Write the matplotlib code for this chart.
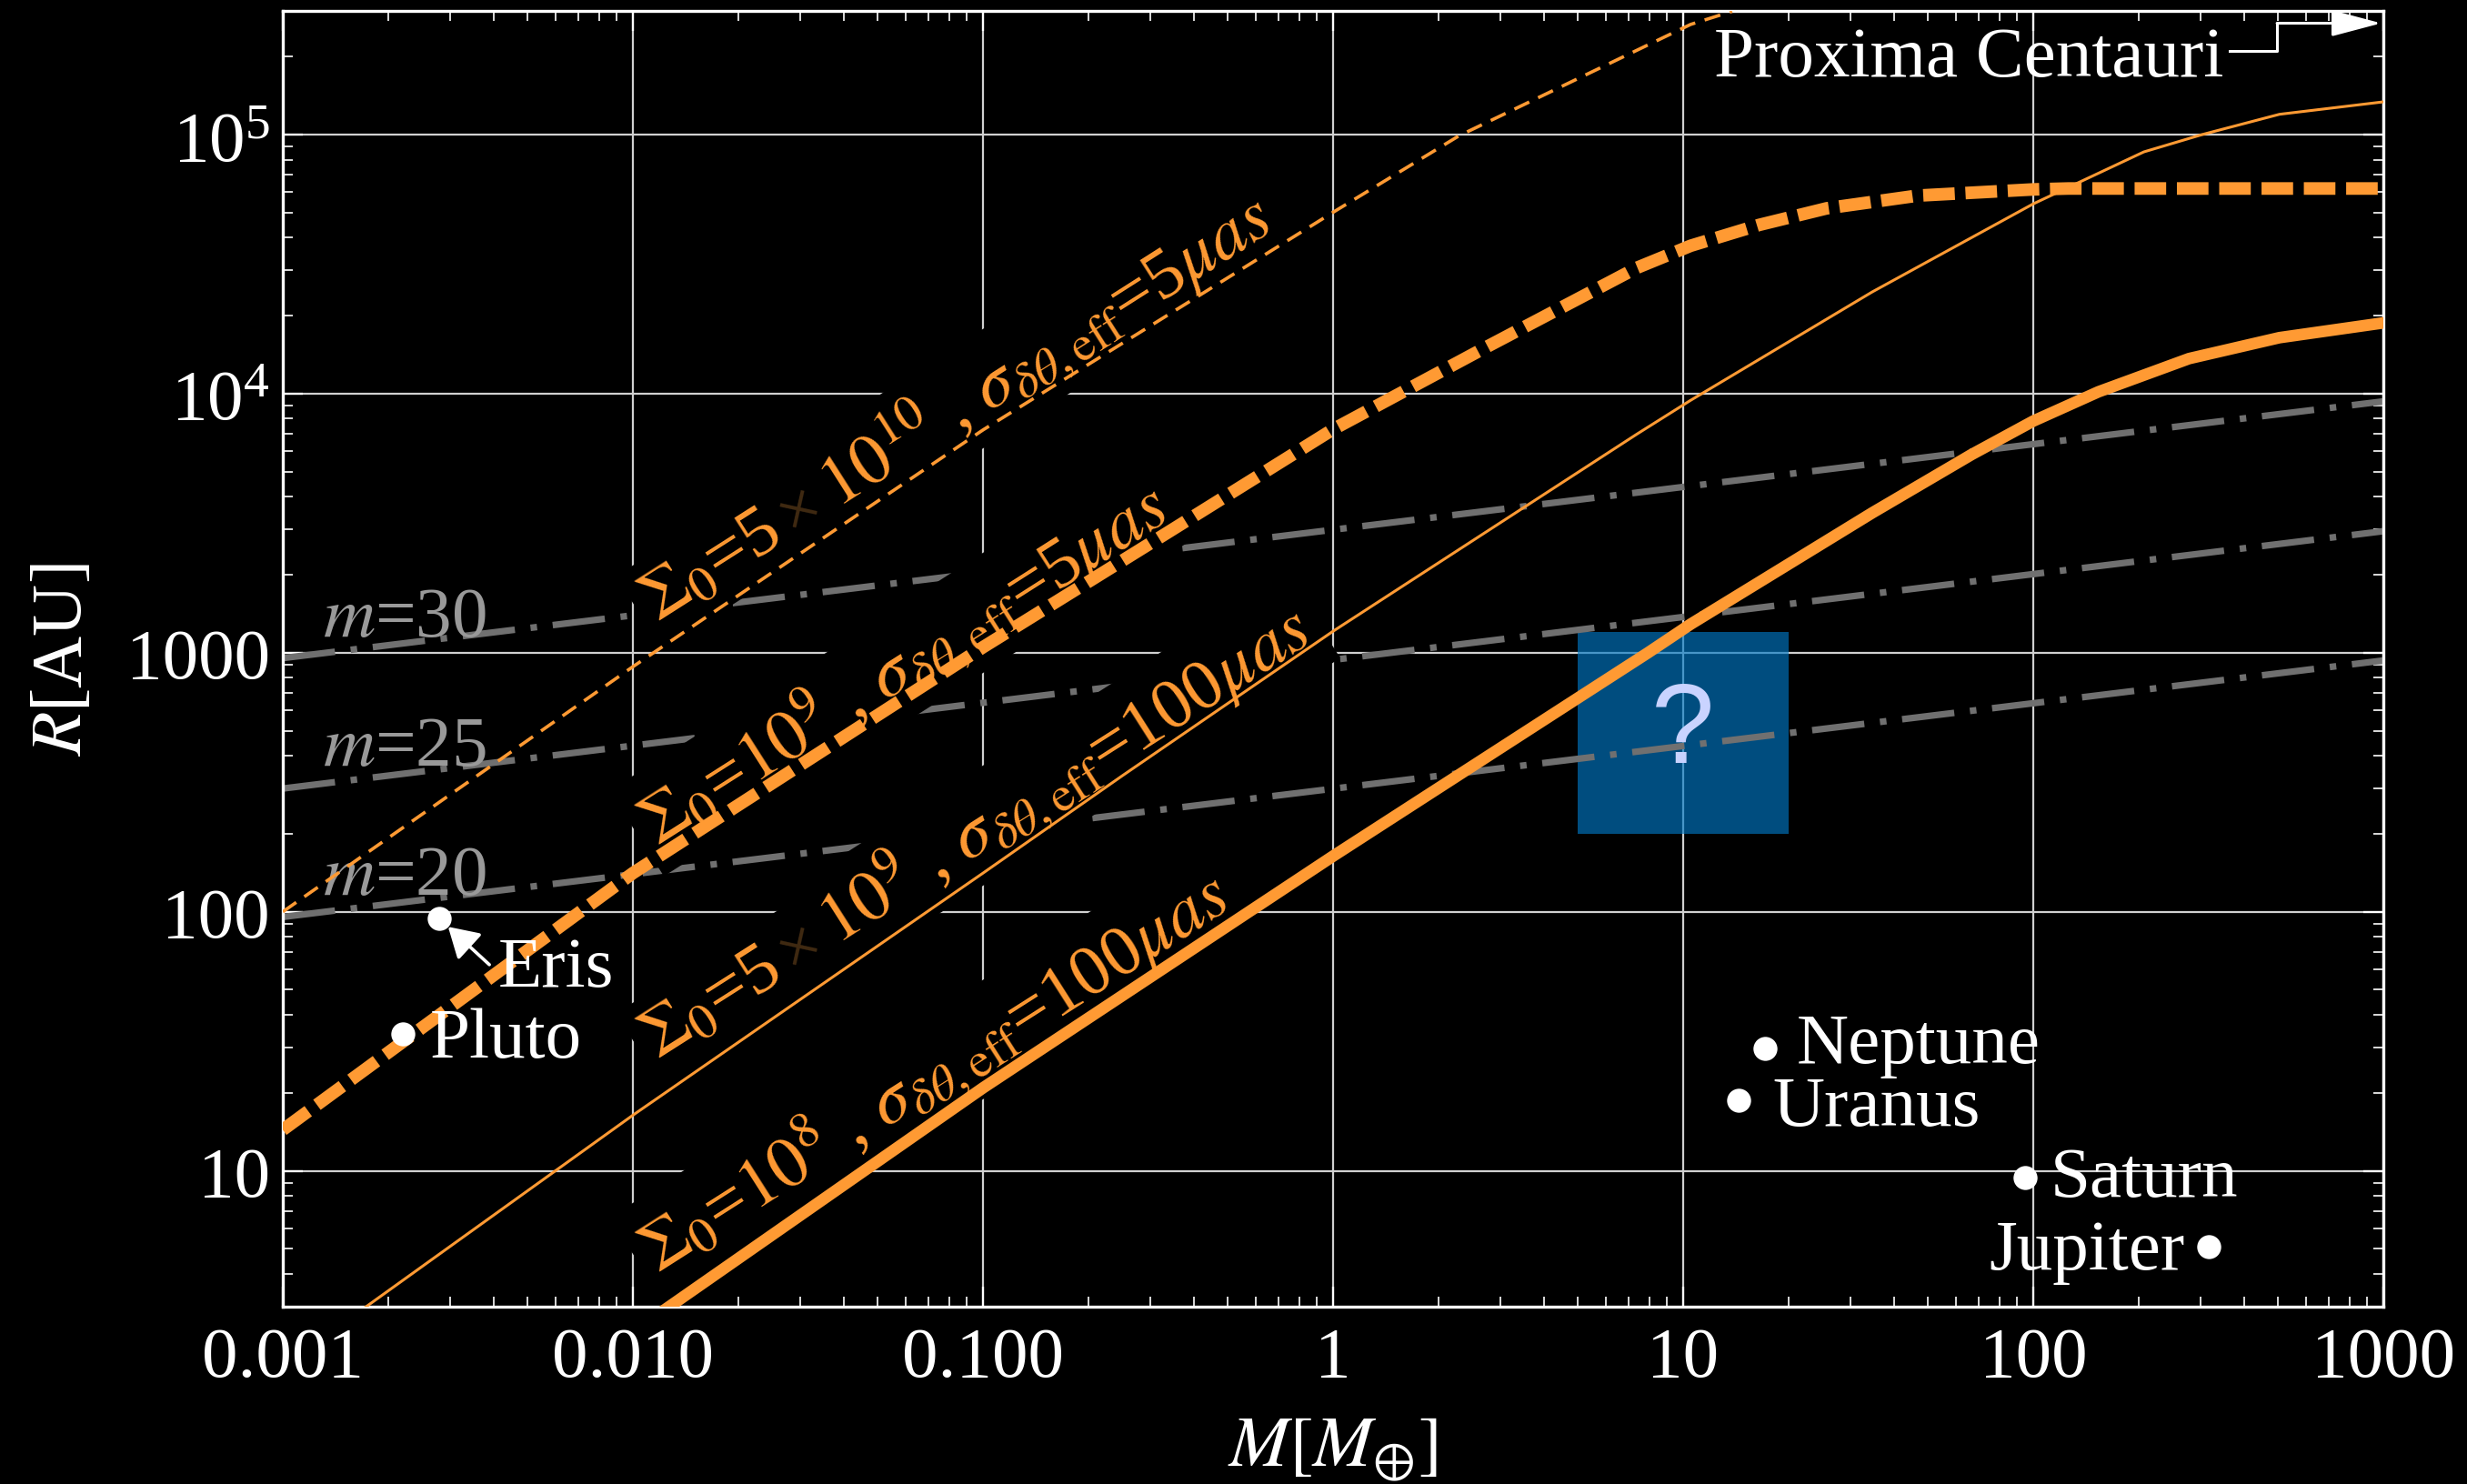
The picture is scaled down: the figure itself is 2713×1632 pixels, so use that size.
#!/usr/bin/env python3

import numpy as np
import matplotlib
matplotlib.use("Agg")
import matplotlib.pyplot as plt
import matplotlib.ticker as ticker
from matplotlib.patches import Rectangle

# Times-like look everywhere
plt.rcParams["font.family"] = ["Liberation Serif", "DejaVu Serif"]
plt.rcParams["mathtext.fontset"] = "stix"
plt.rcParams["font.size"] = 28.5

ORANGE = "#ff9a33"
GRAY = "#707070"
BROWN = "#402a12"
FS = 28.5

# Sigma0 = 5e10, sigma = 5 muas (thin dashed)
mass_a = [0.001, 0.01, 0.1, 1, 2.29, 10.5, 13.8]
rad_a = [100, 883, 7240, 50100, 98900, 266000, 299000]

# Sigma0 = 1e9, sigma = 5 muas (thick dashed)
mass_b = [0.001, 0.01, 0.1, 0.326, 1, 2.76, 7.38, 10.5, 16.5, 25.7, 46.7, 100, 126, 1000]
rad_b = [14.4, 141, 1050, 2830, 7280, 15200, 30600, 37200, 44800, 51900, 58100, 61400, 61900, 61900]

# Sigma0 = 5e9, sigma = 100 muas (thin solid)
mass_c = [0.0017, 0.01, 0.1, 0.25, 1, 7.38, 10.5, 34.7, 100, 207, 304, 505, 1000]
rad_c = [2.94, 16.4, 141, 335, 1210, 6980, 9420, 24700, 54000, 85700, 100000, 119700, 133700]

# Sigma0 = 1e8, sigma = 100 muas (thick solid)
mass_d = [0.01247, 0.1, 1, 7.94, 10.5, 34.7, 66.7, 100, 153.5, 278.6, 504.7, 1000]
rad_d = [2.94, 20.9, 164, 1000, 1288, 3467, 5821, 7834, 10160, 13650, 16440, 18750]

# magnitude limits (grey dash-dot)
mass_mag = [0.001, 1000]
rad_m20 = [95.5, 933]
rad_m25 = [299, 2944]
rad_m30 = [953, 9333]

# solar system bodies
planet_names = ["Pluto", "Eris", "Uranus", "Neptune", "Saturn", "Jupiter"]
planet_mass = [0.0022, 0.0028, 14.4, 17.1, 95, 318]
planet_dist = [33.8, 94, 18.8, 29.7, 9.4, 5.1]

xtick_vals = [0.001, 0.01, 0.1, 1, 10, 100, 1000]
xtick_labels = ["0.001", "0.010", "0.100", "1", "10", "100", "1000"]
ytick_vals = [10, 100, 1000, 1e4, 1e5]
ytick_labels = ["10", "100", "1000", r"$\mathregular{10^4}$", r"$\mathregular{10^5}$"]


def rotated_label(fig, ax, x, y, parts, angle):
    # draw a label made of differently coloured pieces along one rotated baseline
    renderer = fig.canvas.get_renderer()
    ang = np.deg2rad(angle)
    offset = 0.0
    for text, color, gap in parts:
        ax.annotate(text, xy=(x, y), xycoords="data",
                    xytext=(offset * np.cos(ang), offset * np.sin(ang)),
                    textcoords="offset pixels", rotation=angle,
                    rotation_mode="anchor", ha="left", va="baseline",
                    color=color, fontsize=FS, zorder=3,
                    bbox=dict(boxstyle="square,pad=0.15", fc="black", ec="none"))
        tmp = fig.text(0, 0, text, fontsize=FS)
        offset += tmp.get_window_extent(renderer).width + gap
        tmp.remove()


def main():
    fig = plt.figure(figsize=(13.565, 8.165), dpi=200, facecolor="black")
    ax = fig.add_axes([311 / 2713, 1 - 1437.6 / 1633, 2310 / 2713, 1424.6 / 1633])
    ax.set_facecolor("black")

    ax.set_xscale("log")
    ax.set_yscale("log")
    ax.set_xlim(1e-3, 1e3)
    ax.set_ylim(3, 3e5)

    ax.set_xticks(xtick_vals, labels=xtick_labels)
    ax.set_yticks(ytick_vals, labels=ytick_labels)
    ax.xaxis.set_minor_locator(ticker.LogLocator(base=10, subs=range(2, 10), numticks=30))
    ax.yaxis.set_minor_locator(ticker.LogLocator(base=10, subs=range(2, 10), numticks=30))
    ax.xaxis.set_minor_formatter(ticker.NullFormatter())
    ax.yaxis.set_minor_formatter(ticker.NullFormatter())

    ax.tick_params(which="both", direction="in", top=True, right=True,
                   colors="white", labelsize=FS)
    ax.tick_params(which="major", length=8, width=0.8)
    ax.tick_params(which="minor", length=4, width=0.6)
    ax.tick_params(axis="x", pad=8)
    ax.tick_params(axis="y", pad=5)

    for s in ax.spines.values():
        s.set_color("white")
        s.set_linewidth(1.2)

    ax.set_axisbelow(True)
    ax.grid(True, which="major", color="#d0d0d0", linewidth=0.8)

    # the "?" region
    ax.add_patch(Rectangle((5, 200), 15, 1000, facecolor=(0, 0.47, 0.77),
                           alpha=0.65, linewidth=0, zorder=1))
    ax.text(10, 489, "?", family="Liberation Sans", fontsize=45, color="#c9d3ff",
            ha="center", va="center", zorder=1.5)

    # magnitude lines
    for rad in (rad_m20, rad_m25, rad_m30):
        ax.plot(mass_mag, rad, color=GRAY, linewidth=2.6,
                linestyle=(0, (8, 2.4, 1, 2.4)), zorder=2)
    for lab, rr in (("30", 1162), ("25", 370), ("20", 117)):
        ax.text(0.0013, rr, r"$m$=" + lab, color="#999999", fontsize=FS,
                va="baseline", zorder=2.5)

    # sensitivity curves
    ax.plot(mass_a, rad_a, color=ORANGE, linewidth=1.3, linestyle=(0, (5, 3)), zorder=4)
    ax.plot(mass_b, rad_b, color=ORANGE, linewidth=5.0, linestyle=(0, (2.5, 0.85)), zorder=4)
    ax.plot(mass_c, rad_c, color=ORANGE, linewidth=1.1, zorder=4)
    ax.plot(mass_d, rad_d, color=ORANGE, linewidth=4.6, zorder=4)

    sig = r"$\sigma_{\delta\theta,\mathrm{eff}}$"
    angle = 32.5
    rotated_label(fig, ax, 0.01175, 1321,
                  [(r"$\Sigma_0$=5", ORANGE, 12), ("\u00d7", BROWN, 12),
                   (r"$10^{10}$ , " + sig + r"=5$\mu as$", ORANGE, 0)], angle)
    rotated_label(fig, ax, 0.01175, 179.5,
                  [(r"$\Sigma_0$=$10^{9}$ , " + sig + r"=5$\mu as$", ORANGE, 0)], angle)
    rotated_label(fig, ax, 0.01175, 27.1,
                  [(r"$\Sigma_0$=5", ORANGE, 12), ("\u00d7", BROWN, 12),
                   (r"$10^{9}$ , " + sig + r"=100$\mu as$", ORANGE, 0)], angle)
    rotated_label(fig, ax, 0.01175, 4.06,
                  [(r"$\Sigma_0$=$10^{8}$ , " + sig + r"=100$\mu as$", ORANGE, 0)], angle)

    # planets and dwarf planets
    ax.plot(planet_mass, planet_dist, "o", color="white", markersize=9.5,
            markeredgewidth=0, zorder=5)
    offsets = {"Pluto": (30, -25, "left"), "Uranus": (37, -27.5, "left"),
               "Neptune": (35, -15, "left"), "Saturn": (27, -20, "left"),
               "Jupiter": (-27, -24, "right"), "Eris": (65, -73.5, "left")}
    for name, mm, rr in zip(planet_names, planet_mass, planet_dist):
        dx, dy, ha = offsets[name]
        ax.annotate(name, xy=(mm, rr), xytext=(dx, dy), textcoords="offset pixels",
                    ha=ha, va="baseline", color="white", fontsize=FS, zorder=5)
    ax.annotate("", xy=(0.0028, 94), xytext=(55, -50.5), textcoords="offset pixels",
                arrowprops=dict(arrowstyle="-|>,head_length=0.5,head_width=0.3",
                                color="white", lw=1.3, shrinkA=0, shrinkB=4.7,
                                mutation_scale=20), zorder=5)

    # Proxima Centauri pointer
    ax.text(12.25, 1.69e5, "Proxima Centauri", color="white", fontsize=FS,
            va="baseline", zorder=5)
    ax.plot([0.9268, 0.9494, 0.9494], [0.9688, 0.9688, 0.9905], transform=ax.transAxes,
            color="white", linewidth=1.1, clip_on=False, zorder=5)
    ax.annotate("", xy=(0.999, 0.9905), xytext=(0.9494, 0.9905), xycoords="axes fraction",
                arrowprops=dict(arrowstyle="-|>,head_length=0.85,head_width=0.225",
                                color="white", lw=1.1, shrinkA=0, shrinkB=0,
                                mutation_scale=20), zorder=5)

    ax.set_xlabel(r"$M[M_{\oplus}]$", color="white", fontsize=FS)
    ax.set_ylabel(r"$R$[AU]", color="white", fontsize=FS)
    ax.xaxis.set_label_coords(0.5, -0.084)
    ax.yaxis.set_label_coords(-0.0887, 0.5)

    fig.savefig("out.png", dpi=200, facecolor="black")


if __name__ == "__main__":
    main()
